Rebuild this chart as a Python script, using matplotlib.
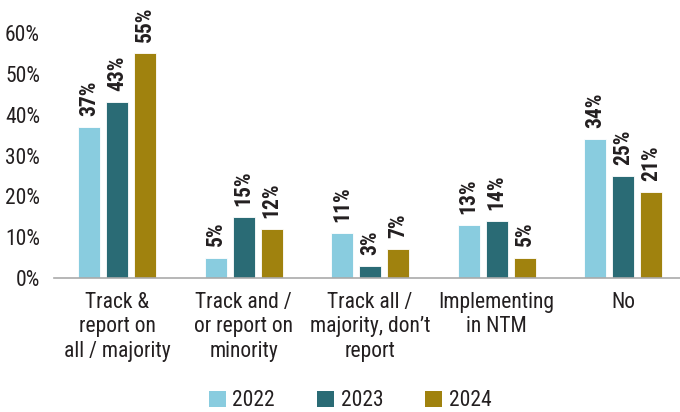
import numpy as np
import matplotlib
matplotlib.use("Agg")
import matplotlib.pyplot as plt
from matplotlib.patches import Patch

plt.rcParams['font.family'] = ['Roboto Condensed', 'Liberation Sans Narrow', 'Roboto', 'DejaVu Sans']

categories = ["Track &\nreport on\nall / majority",
              "Track and /\nor report on\nminority",
              "Track all /\nmajority, don\u2019t\nreport",
              "Implementing\nin NTM",
              "No"]
years = ["2022", "2023", "2024"]
v2022 = [37, 5, 11, 13, 34]
v2023 = [43, 15, 3, 14, 25]
v2024 = [55, 12, 7, 5, 21]
colors = ["#89CCDF", "#2A6B75", "#A0820E"]
ytick_vals = [0, 10, 20, 30, 40, 50, 60]
text_color = "#231F20"

fig = plt.figure(figsize=(6.8, 4.12), dpi=100)
ax = fig.add_axes([54 / 680, 1 - 278 / 412, 626 / 680, 245 / 412])

x = np.arange(len(categories))
width = 0.175
step = 0.221
for i, (vals, col) in enumerate(zip([v2022, v2023, v2024], colors)):
    pos = x + (i - 1) * step
    ax.bar(pos, vals, width=width, color=col, edgecolor="white", linewidth=0.6, zorder=2)
    # value label above each bar, rotated
    for p, v in zip(pos, vals):
        ax.annotate(f"{v}%", (p, v), xytext=(0, 8), textcoords="offset points",
                    rotation=90, ha="center", va="bottom", fontsize=15.5,
                    fontweight="bold", color=text_color)

ax.set_xlim(-0.5, 4.45)
ax.set_ylim(0, 60)
ax.set_yticks(ytick_vals)
ax.set_yticklabels([f"{t}%" for t in ytick_vals], fontsize=15.5, color=text_color)
ax.set_xticks(x)
ax.set_xticklabels(categories, fontsize=15.5, color=text_color, linespacing=1.22)
ax.tick_params(axis="both", length=0)
ax.tick_params(axis="y", pad=10)
ax.tick_params(axis="x", pad=10)
for s in ["top", "right", "left"]:
    ax.spines[s].set_visible(False)
ax.spines["bottom"].set_color("#AAAAAA")
ax.spines["bottom"].set_linewidth(1.2)

handles = [Patch(facecolor=c, label=y) for c, y in zip(colors, years)]
fig.legend(handles=handles, loc="center", bbox_to_anchor=(350 / 680, 1 - 401 / 412),
           ncol=3, frameon=False, fontsize=15.5, handlelength=0.8, handleheight=0.8,
           handletextpad=0.3, columnspacing=1.95, labelcolor=text_color)

fig.savefig("out.png", dpi=100)
